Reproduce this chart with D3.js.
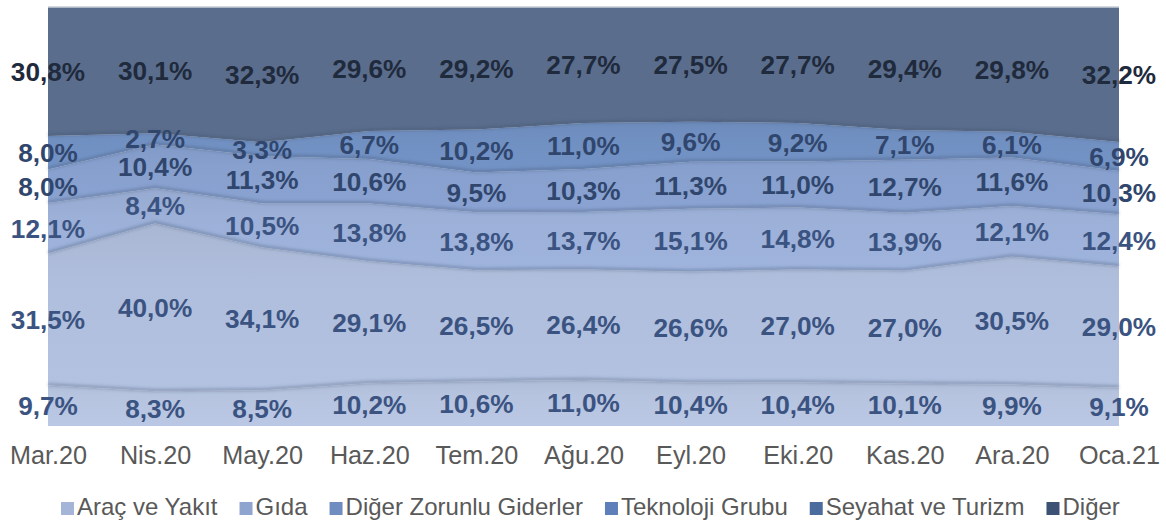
<!DOCTYPE html>
<html>
<head>
<meta charset="utf-8">
<script src="https://cdn.jsdelivr.net/npm/d3@7"></script>
<style>
  body { margin: 0; background: #fff; }
  text { font-family: "Liberation Sans", Arial, sans-serif; }
</style>
</head>
<body>
<div id="chart"></div>
<script>
const months = ["Mar.20", "Nis.20", "May.20", "Haz.20", "Tem.20", "Ağu.20", "Eyl.20", "Eki.20", "Kas.20", "Ara.20", "Oca.21"];
const seriesNames = ["Araç ve Yakıt", "Gıda", "Diğer Zorunlu Giderler", "Teknoloji Grubu", "Seyahat ve Turizm", "Diğer"];

const aracYakit    = [9.7, 8.3, 8.5, 10.2, 10.6, 11.0, 10.4, 10.4, 10.1, 9.9, 9.1];
const gida         = [31.5, 40.0, 34.1, 29.1, 26.5, 26.4, 26.6, 27.0, 27.0, 30.5, 29.0];
const digerZorunlu = [12.1, 8.4, 10.5, 13.8, 13.8, 13.7, 15.1, 14.8, 13.9, 12.1, 12.4];
const teknoloji    = [8.0, 10.4, 11.3, 10.6, 9.5, 10.3, 11.3, 11.0, 12.7, 11.6, 10.3];
const seyahat      = [8.0, 2.7, 3.3, 6.7, 10.2, 11.0, 9.6, 9.2, 7.1, 6.1, 6.9];
const diger        = [30.8, 30.1, 32.3, 29.6, 29.2, 27.7, 27.5, 27.7, 29.4, 29.8, 32.2];

const seriesValues = [aracYakit, gida, digerZorunlu, teknoloji, seyahat, diger];

// colours: area fill, legend swatch, label text
const areaColors   = ["#b6c4e0", "#afbedc", "#9cb0d8", "#87a0ce", "#7190c2", "#5a6d8c"];
const legendColors = ["#a5b5d7", "#8fa5cf", "#6f8dc1", "#5e7fb9", "#4c6c9d", "#3c5173"];
const labelColors  = ["#3b5381", "#3b5381", "#3b5381", "#30466d", "#30466d", "#1f2a3c"];

const W = 1166, H = 520;
const plot = { left: 48, right: 1119, top: 7, bottom: 426 };

const rows = months.map((m, i) => {
  const r = { month: m };
  seriesNames.forEach((s, j) => r[s] = seriesValues[j][i]);
  return r;
});

const stack = d3.stack().keys(seriesNames).offset(d3.stackOffsetExpand);
const layers = stack(rows);

const x = d3.scalePoint().domain(months).range([plot.left, plot.right]);
const y = d3.scaleLinear().domain([0, 1]).range([plot.bottom, plot.top]);

const svg = d3.select("#chart").append("svg")
  .attr("width", W)
  .attr("height", H);

const defs = svg.append("defs");
defs.append("filter").attr("id", "soft")
  .attr("x", "-5%").attr("y", "-50%").attr("width", "110%").attr("height", "200%")
  .append("feGaussianBlur").attr("stdDeviation", 1.6);

// slight vertical gradient per layer (darker under its top edge)
layers.forEach((l, i) => {
  const g = defs.append("linearGradient").attr("id", "grad" + i)
    .attr("x1", 0).attr("y1", 0).attr("x2", 0).attr("y2", 1);
  const c = d3.color(areaColors[i]);
  g.append("stop").attr("offset", "0%").attr("stop-color", c.darker(0.1));
  g.append("stop").attr("offset", "35%").attr("stop-color", c);
  g.append("stop").attr("offset", "100%").attr("stop-color", c.brighter(0.06));
});

const area = d3.area()
  .x(d => x(d.data.month))
  .y0(d => y(d[0]))
  .y1(d => y(d[1]));

svg.append("g").selectAll("path")
  .data(layers)
  .join("path")
  .attr("d", area)
  .attr("fill", (d, i) => i === 5 ? areaColors[i] : `url(#grad${i})`);

// soft shadow along each layer's lower edge
const edge = d3.line()
  .x(d => x(d.data.month))
  .y(d => y(d[0]) - 1);

svg.append("g").selectAll("path")
  .data(layers.slice(1))
  .join("path")
  .attr("d", edge)
  .attr("fill", "none")
  .attr("stroke", "#3c4d6a")
  .attr("stroke-opacity", 0.35)
  .attr("stroke-width", 3)
  .attr("filter", "url(#soft)");

// thin light rim on top of plot
svg.append("line")
  .attr("x1", plot.left).attr("x2", plot.right)
  .attr("y1", plot.top).attr("y2", plot.top)
  .attr("stroke", "#c9cfd9").attr("stroke-width", 1.5);

// data labels
const fmt = v => v.toFixed(1).replace(".", ",") + "%";
layers.forEach((l, i) => {
  svg.append("g").selectAll("text")
    .data(l)
    .join("text")
    .attr("x", d => x(d.data.month))
    .attr("y", d => y((d[0] + d[1]) / 2))
    .attr("dy", "0.36em")
    .attr("text-anchor", "middle")
    .attr("font-size", "26.2px")
    .attr("font-weight", "bold")
    .attr("fill", labelColors[i])
    .text((d, j) => fmt(seriesValues[i][j]));
});

// x axis
const xAxis = svg.append("g")
  .attr("transform", `translate(0,${plot.bottom})`)
  .call(d3.axisBottom(x).tickSize(0).tickPadding(20));
xAxis.select(".domain").remove();
xAxis.selectAll("text")
  .attr("font-family", "\"Liberation Sans\", Arial, sans-serif")
  .attr("font-size", "25.2px")
  .attr("fill", "#595959");

// legend
const legend = svg.append("g").attr("transform", "translate(0,507)");
let lx = 61;
seriesNames.forEach((s, i) => {
  legend.append("rect")
    .attr("x", lx).attr("y", -5)
    .attr("width", 13).attr("height", 13)
    .attr("fill", legendColors[i]);
  const t = legend.append("text")
    .attr("x", lx + 16).attr("y", 0)
    .attr("dy", "0.35em")
    .attr("font-size", "24px")
    .attr("fill", "#595959")
    .text(s);
  lx += 16 + t.node().getComputedTextLength() + 22;
});
</script>
</body>
</html>
